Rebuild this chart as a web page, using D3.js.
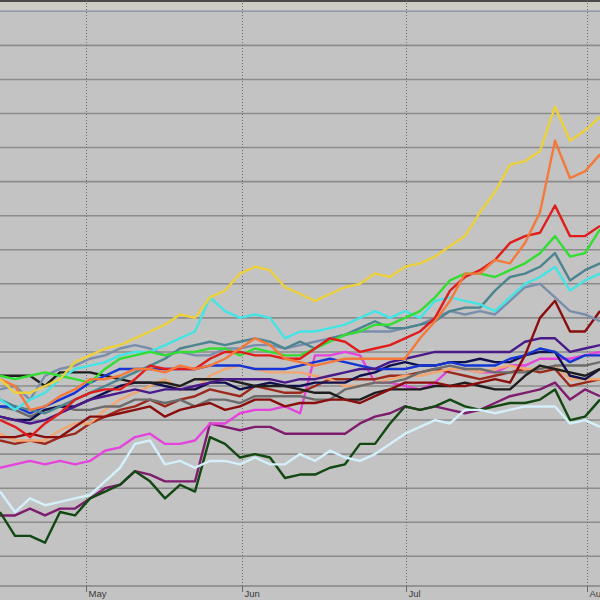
<!DOCTYPE html>
<html>
<head>
<meta charset="utf-8">
<script src="https://cdn.jsdelivr.net/npm/d3@7"></script>
<style>
html,body{margin:0;padding:0;background:#c3c3c3;}
svg{display:block;}
</style>
</head>
<body>
<svg id="chart" width="600" height="600"></svg>
<script>
// ---- data: % change, one sample per step ----
const monthLabels = ["May", "Jun", "Jul", "Au"];
const monthStarts = [5.73, 16.13, 27.07, 39.13]; // sample index where each month begins
const gridValues = [-50,-40,-30,-20,-10,0,10,20,30,40,50,60,70,80,90,100,110];

const yellow   = [2,-2,-2,0,2,7,9,11,12,14,16,18,21,20,26,28,33,35,34,29,27,25,27,29,30,33,32,35,36,38,41,44,51,57,65,66,69,82,72,75,79];
const coral    = [2,0,-7,-6,-3,-1,2,2,3,5,5,4,6,5,6,8,11,14,12,8,7,6,7,8,8,8,8,8,14,19,25,33,33,37,36,42,51,72,61,63,68];
const red      = [-10,-12,-15,-11,-8,-4,-2,-1,-1,2,6,5,5,5,8,10,10,9,9,8,8,11,14,13,10,11,12,14,16,20,28,32,34,37,42,44,45,53,44,44,47];
const green    = [3,2,3,4,3,2,1,5,8,9,10,9,10,10,11,11,9,11,10,9,9,11,13,15,16,18,18,20,22,26,31,33,33,32,34,36,39,44,38,39,46];
const teal     = [-4,-6,-7,-8,-6,-4,-2,0,2,4,6,8,11,12,13,12,13,14,13,11,13,11,14,15,17,19,17,17,18,19,22,23,23,28,32,33,35,39,31,34,36];
const steel    = [-1,0,-4,3,5,6,8,9,11,12,11,9,10,9,9,11,11,12,12,11,12,13,14,15,16,16,16,17,18,20,22,21,22,21,25,29,30,26,22,21,19];
const cyan     = [-4,-7,-4,-2,2,5,6,7,9,10,10,12,14,16,26,22,20,21,20,14,16,16,17,18,20,22,20,22,20,25,26,25,24,22,26,30,32,35,28,31,33];
const maroon   = [-15,-15,-14,-15,-15,-12,-9,-9,-8,-7,-6,-9,-7,-6,-5,-7,-6,-4,-4,-6,-5,-5,-4,-4,-5,-3,-1,1,1,1,0,0,1,2,1,9,20,25,16,16,22];
const indigo   = [-9,-10,-11,-10,-8,-6,-4,-3,-2,-1,-2,-1,-1,0,1,2,2,2,2,1,2,2,3,4,5,5,7,8,9,10,10,10,10,10,10,13,14,14,10,11,12];
const blue     = [-6,-6,-8,-6,-4,-2,1,3,5,5,5,5,5,5,6,6,6,5,5,5,6,7,8,7,6,5,5,5,6,6,7,6,6,6,8,9,11,10,7,9,9];
const magenta  = [-24,-23,-22,-23,-22,-23,-22,-19,-18,-15,-14,-17,-17,-16,-11,-11,-8,-7,-7,-6,-8,9,9,10,9,1,1,0,-1,1,5,5,4,4,6,6,8,8,8,9,10];
const black    = [3,3,3,0,4,4,4,3,2,1,1,1,0,2,2,2,1,0,0,0,-1,-2,-2,-4,-4,-2,-1,-1,-1,0,0,1,0,-1,-1,3,6,5,4,3,5];
const navy     = [-9,-10,-10,-7,-6,-6,-4,-2,0,1,1,0,-1,-1,1,1,-1,0,1,0,0,1,1,1,3,4,6,7,6,6,7,7,8,7,7,9,10,10,3,2,5];
const peach    = [-14,-16,-16,-16,-13,-11,-11,-7,-4,-2,0,2,-1,-1,3,5,6,5,4,4,4,3,2,0,0,1,2,3,3,4,5,5,4,5,6,5,5,6,2,2,2];
const gray     = [-6,-7,-9,-7,-6,-7,-7,-6,-6,-4,-4,-5,-4,-6,-4,-4,-5,-3,-3,-3,-3,-4,-4,-1,0,1,1,2,4,5,6,5,5,4,4,4,5,6,6,6,7];
const plum     = [-38,-38,-36,-38,-36,-36,-33,-30,-29,-25,-26,-28,-28,-28,-11,-12,-13,-12,-12,-14,-14,-14,-14,-14,-11,-9,-8,-6,-7,-6,-7,-8,-7,-5,-3,-2,-1,1,-4,-1,-3];
const lightblue= [-31,-37,-33,-35,-34,-33,-32,-28,-24,-17,-16,-23,-22,-24,-22,-22,-23,-21,-23,-23,-20,-22,-19,-21,-22,-20,-17,-14,-12,-10,-11,-7,-7,-8,-7,-6,-6,-6,-11,-10,-12];
const darkgreen= [-37,-44,-44,-46,-37,-38,-33,-31,-29,-25,-28,-33,-29,-31,-15,-17,-21,-20,-21,-27,-26,-26,-24,-23,-17,-17,-11,-6,-7,-6,-4,-6,-7,-6,-5,-5,-4,-1,-10,-9,-4];
const brown    = [-16,-17,-16,-17,-15,-14,-11,-9,-7,-6,-4,-6,-4,-3,-1,-2,-3,0,-1,-2,-2,0,2,2,2,2,3,3,4,5,4,3,2,3,4,5,4,5,0,1,2];

// ---- styles (draw order: first drawn is lowest) ----
const seriesList = [
  {v: plum,      c: "#7e1c6e"},
  {v: darkgreen, c: "#124812"},
  {v: lightblue, c: "#d4f0fa"},
  {v: magenta,   c: "#e444dc"},
  {v: brown,     c: "#9c2a1c"},
  {v: peach,     c: "#f2a672"},
  {v: gray,      c: "#6c6c6c"},
  {v: navy,      c: "#10104e"},
  {v: black,     c: "#1e1e1e"},
  {v: blue,      c: "#1434d4"},
  {v: indigo,    c: "#4a1a88"},
  {v: maroon,    c: "#8a0e0e"},
  {v: steel,     c: "#7a8eac"},
  {v: teal,      c: "#4c8490"},
  {v: cyan,      c: "#44e4e4"},
  {v: green,     c: "#34dc34"},
  {v: red,       c: "#e01c1c"},
  {v: coral,     c: "#f47a3c"},
  {v: yellow,    c: "#ecd03c"}
];

const W = 600, H = 600, plotBottom = 586;
const svg = d3.select("#chart");

const x = d3.scaleLinear().domain([0, yellow.length - 1]).range([0, W]);
const y = d3.scaleLinear().domain([-50, 110]).range([556.3, 11.3]);

svg.append("rect").attr("width", W).attr("height", H).attr("fill", "#c3c3c3");
// top frame
svg.append("rect").attr("x", 0).attr("y", 0).attr("width", W).attr("height", 2).attr("fill", "#4a4a4a");
svg.append("rect").attr("x", 0).attr("y", 2).attr("width", W).attr("height", 8).attr("fill", "#cdcdc6");

// horizontal grid
svg.append("g").selectAll("line").data(gridValues).join("line")
  .attr("x1", 0).attr("x2", W)
  .attr("y1", d => y(d)).attr("y2", d => y(d))
  .attr("stroke", d => d === 110 ? "#9298b2" : "#8c8c8c")
  .attr("stroke-width", 1.6);

// month dotted lines
svg.append("g").selectAll("line").data(monthStarts).join("line")
  .attr("x1", d => Math.round(x(d)) + 0.5).attr("x2", d => Math.round(x(d)) + 0.5)
  .attr("y1", 0).attr("y2", plotBottom)
  .attr("stroke", "#6a6a6a").attr("stroke-width", 1)
  .attr("stroke-dasharray", "1,2");

// series
const clip = svg.append("clipPath").attr("id", "plotclip");
clip.append("rect").attr("x", 0).attr("y", 0).attr("width", W).attr("height", plotBottom);
const line = d3.line().x((d, i) => x(i)).y(d => y(d));
svg.append("g").attr("clip-path", "url(#plotclip)")
  .selectAll("path").data(seriesList).join("path")
  .attr("d", d => line(d.v))
  .attr("fill", "none")
  .attr("stroke", d => d.c)
  .attr("stroke-width", 2.4)
  .attr("stroke-linejoin", "round");

// bottom axis
svg.append("line").attr("x1", 0).attr("x2", W).attr("y1", plotBottom).attr("y2", plotBottom)
  .attr("stroke", "#858585").attr("stroke-width", 1.5);
const ticks = svg.append("g").selectAll("g").data(monthStarts).join("g")
  .attr("transform", d => `translate(${Math.round(x(d)) + 0.5},0)`);
ticks.append("line").attr("y1", plotBottom).attr("y2", plotBottom + 6)
  .attr("stroke", "#6a6a6a").attr("stroke-width", 1);
ticks.append("text").attr("x", 2).attr("y", 596.5)
  .attr("font-family", "Liberation Sans, Arial, sans-serif")
  .attr("font-size", 9.5).attr("fill", "#3a3a3a")
  .text((d, i) => monthLabels[i]);
</script>
</body>
</html>
